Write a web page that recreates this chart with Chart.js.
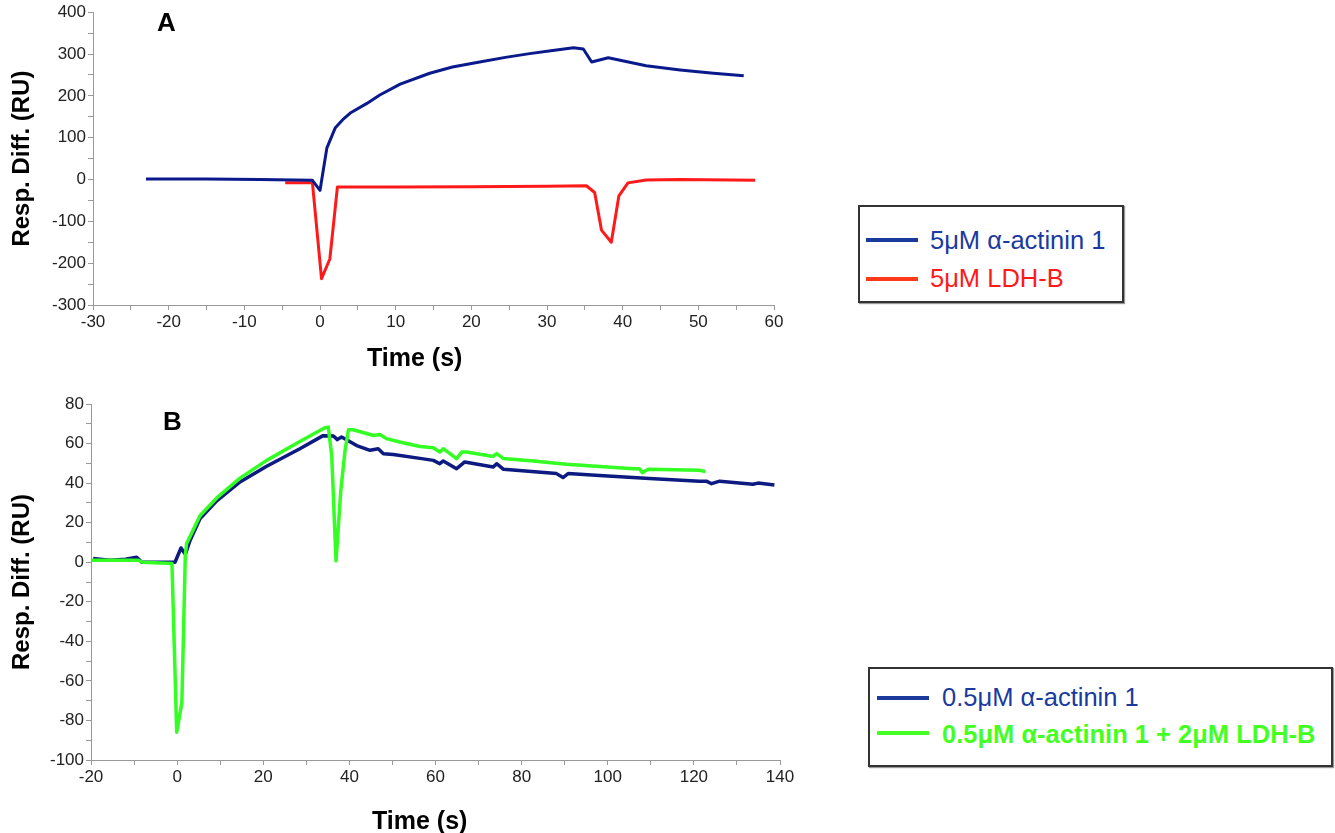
<!DOCTYPE html>
<html>
<head>
<meta charset="utf-8">
<script src="https://cdn.jsdelivr.net/npm/chart.js@4"></script>
<style>
  body { margin: 0; width: 1335px; height: 833px; background: #fff; position: relative; overflow: hidden;
         font-family: "Liberation Sans", Arial, sans-serif; }
  canvas { position: absolute; left: 0; }
  .abs { position: absolute; white-space: nowrap; }
  .letter { font-size: 26px; font-weight: bold; line-height: 30px; color: #000; }
  .xtitle { font-size: 25px; font-weight: bold; line-height: 30px; color: #000; }
  .box { border: 2px solid #333; box-sizing: border-box; box-shadow: 1px 1px 1px #999; }
  .swatch { height: 4px; width: 52px; }
  .ltext { font-size: 25.5px; line-height: 28px; }
</style>
</head>
<body>
<canvas id="chartA" width="800" height="380" style="top:0"></canvas>
<canvas id="chartB" width="810" height="448" style="top:385px"></canvas>

<div class="abs letter" style="left:157px; top:7px">A</div>
<div class="abs letter" style="left:163px; top:406px">B</div>
<div class="abs xtitle" style="left:367px; top:342px">Time (s)</div>
<div class="abs xtitle" style="left:372px; top:805px">Time (s)</div>

<div class="abs box" style="left:858px; top:205px; width:266px; height:98px"></div>
<div class="abs swatch" style="left:866px; top:238px; background:#1a3a9e"></div>
<div class="abs ltext" style="left:930px; top:226px; color:#1a3a9e">5μM α-actinin 1</div>
<div class="abs swatch" style="left:866px; top:277px; background:#ff3a1a"></div>
<div class="abs ltext" style="left:930px; top:264px; color:#ff1a1a">5μM LDH-B</div>

<div class="abs box" style="left:868px; top:667px; width:465px; height:100px"></div>
<div class="abs swatch" style="left:877px; top:696px; background:#1a3a9e"></div>
<div class="abs ltext" style="left:942px; top:683px; color:#1a3a9e">0.5μM α-actinin 1</div>
<div class="abs swatch" style="left:877px; top:731px; background:#44ff22"></div>
<div class="abs ltext" style="left:942px; top:720px; color:#44ff22; font-weight:bold">0.5μM α-actinin 1 + 2μM LDH-B</div>

<script>
// Panel A: 5uM alpha-actinin 1 vs 5uM LDH-B
const aActininTime = [-23, -15, -8, -1, 0, 0.9, 2, 3, 4, 6.2, 7.9, 10.6, 14.5, 17.5, 21.1, 24.5, 27.7, 31, 33.5, 34.8, 35.9, 38.1, 43.1, 47.6, 52, 56];
const aActininResp = [1, 1, 0, -2, -26, 75, 123, 143, 159, 182, 202, 228, 254, 269, 281, 292, 301, 309, 315, 312, 281, 291, 272, 262, 254, 248];
const aLdhTime = [-4.6, -1, 0.2, 1.3, 2.3, 10, 20, 30, 35.2, 36.3, 37.2, 38.5, 39.5, 40.7, 43.1, 47.6, 57.5];
const aLdhResp = [-8, -8, -237, -190, -18, -18, -17, -16, -15, -31, -121, -150, -39, -8, -1, 0, -2];

// Panel B: 0.5uM alpha-actinin 1 with / without 2uM LDH-B
const bActininTime = [-19.5, -17.9, -15.5, -12, -9.4, -8.2, -0.5, 0.9, 1.9, 3, 5.3, 9.2, 14.6, 20.8, 28.5, 33.9, 36.3, 37.2, 38.2, 41.7, 44.8, 46.7, 47.9, 50.2, 56.4, 59.5, 61, 61.8, 64.9, 66.8, 73.4, 74.2, 75.8, 88.1, 89.6, 90.8, 98.1, 109.7, 121.3, 122.9, 124.1, 126, 133.7, 134.9, 138.7];
const bActininResp = [1.9, 1.5, 1, 1.5, 2.5, 0, 0, 7.2, 4, 11, 22, 31, 40.6, 48.5, 57.4, 64, 63.8, 62, 63.3, 59, 56.6, 57.4, 54.9, 54.5, 52.5, 51.5, 49.8, 51.2, 47.3, 50.7, 48.1, 49.8, 47, 44.8, 42.8, 44.8, 43.9, 42.3, 41, 41, 39.7, 41, 39.4, 40, 39];
const bMixTime = [-19.8, -9, -8, -1.2, -0.1, 1.1, 1.9, 2.2, 5.3, 9.2, 14.6, 20.8, 28.5, 34.3, 35.1, 35.9, 36.9, 38, 39, 39.8, 40.9, 45.6, 47.1, 48.6, 51.7, 56.4, 59.5, 61, 61.8, 64.9, 66.1, 67.2, 73.4, 74.2, 75.8, 82.7, 90.4, 105.9, 107.4, 108, 109.4, 121.3, 122.7];
const bMixResp = [1, 1, 0, -0.7, -86, -71, 3.5, 9.4, 23.5, 32.5, 42.5, 51.5, 61, 68, 68.3, 54, 0.7, 36, 56.6, 67, 67, 64.1, 64.6, 62.5, 60.8, 58.5, 57.9, 55.7, 57.4, 52.4, 55.7, 55.7, 53.5, 54.9, 52.4, 51.2, 49.5, 47.3, 47.3, 45.3, 47, 46.5, 45.8];

const pts = (xs, ys) => xs.map((x, i) => ({ x, y: ys[i] }));
const tickFont = { family: '"Liberation Sans", Arial, sans-serif', size: 17 };

function line(label, xs, ys, color, width) {
  return { label, data: pts(xs, ys), borderColor: color, borderWidth: width, borderJoinStyle: 'round',
           pointRadius: 0, tension: 0, fill: false };
}

function makeChart(id, datasets, xr, yr, box) {
  return new Chart(document.getElementById(id), {
    type: 'line',
    data: { datasets },
    options: {
      responsive: false,
      animation: false,
      layout: { padding: { top: box.top, right: box.right, left: 0, bottom: 0 } },
      plugins: { legend: { display: false }, tooltip: { enabled: false } },
      scales: {
        x: {
          type: 'linear', min: xr[0], max: xr[1],
          afterFit: s => { s.height = box.xh; },
          ticks: { stepSize: xr[2], autoSkip: false, maxRotation: 0, color: '#222', font: tickFont, padding: 2,
                   callback: v => (v % xr[3] === 0 ? v : '') },
          grid: { drawOnChartArea: false, tickLength: 5, color: '#999' },
          border: { color: '#999' }
        },
        y: {
          min: yr[0], max: yr[1],
          afterFit: s => { s.width = box.yw; },
          ticks: { stepSize: yr[2], autoSkip: false, color: '#222', font: tickFont, padding: 2,
                   callback: v => (v % yr[3] === 0 ? v : '') },
          grid: { drawOnChartArea: false, tickLength: 5, color: '#999' },
          border: { color: '#999' },
          title: { display: true, text: 'Resp. Diff. (RU)', color: '#000', padding: { top: 8, bottom: 0 },
                   font: { family: '"Liberation Sans", Arial, sans-serif', size: 24, weight: 'bold' } }
        }
      }
    }
  });
}

makeChart('chartA', [
  line('5μM α-actinin 1', aActininTime, aActininResp, '#0a1a8c', 3),
  line('5μM LDH-B', aLdhTime, aLdhResp, '#ff1a1a', 3)
], [-30, 60, 5, 10], [-300, 400, 50, 100], { top: 10, right: 26, xh: 75, yw: 93 });

makeChart('chartB', [
  line('0.5μM α-actinin 1 + 2μM LDH-B', bMixTime, bMixResp, '#33ff22', 3.5),
  line('0.5μM α-actinin 1', bActininTime, bActininResp, '#0d1a80', 3.5)
], [-20, 140, 10, 20], [-100, 80, 10, 20], { top: 19, right: 30, xh: 73, yw: 91 });
</script>
</body>
</html>
